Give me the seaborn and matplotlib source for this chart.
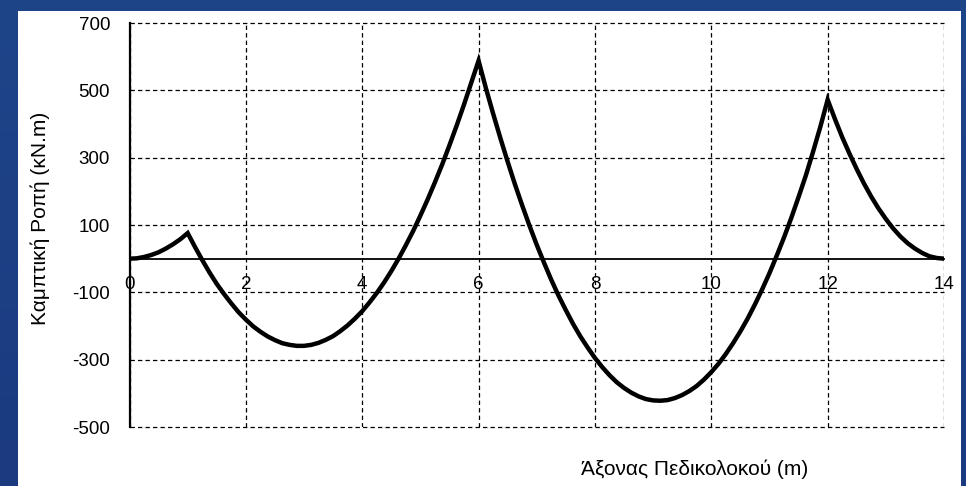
import numpy as np
import matplotlib
matplotlib.use("Agg")
import matplotlib.pyplot as plt
from matplotlib.patches import Rectangle
import pandas as pd
import seaborn as sns

# Bending moment along the beam axis (m, kN.m)
position_m = [
    0.0, 0.125, 0.25, 0.375, 0.5, 0.625, 0.75, 0.875, 1.0,
    1.125, 1.25, 1.375, 1.5, 1.625, 1.75, 1.875, 2.0,
    2.125, 2.25, 2.375, 2.5, 2.625, 2.75, 2.875, 3.0,
    3.125, 3.25, 3.375, 3.5, 3.625, 3.75, 3.875, 4.0,
    4.125, 4.25, 4.375, 4.5, 4.625, 4.75, 4.875, 5.0,
    5.125, 5.25, 5.375, 5.5, 5.625, 5.75, 5.875, 6.0,
    6.125, 6.25, 6.375, 6.5, 6.625, 6.75, 6.875, 7.0,
    7.125, 7.25, 7.375, 7.5, 7.625, 7.75, 7.875, 8.0,
    8.125, 8.25, 8.375, 8.5, 8.625, 8.75, 8.875, 9.0,
    9.125, 9.25, 9.375, 9.5, 9.625, 9.75, 9.875, 10.0,
    10.125, 10.25, 10.375, 10.5, 10.625, 10.75, 10.875, 11.0,
    11.125, 11.25, 11.375, 11.5, 11.625, 11.75, 11.875, 12.0,
    12.125, 12.25, 12.375, 12.5, 12.625, 12.75, 12.875, 13.0,
    13.125, 13.25, 13.375, 13.5, 13.625, 13.75, 13.875, 14.0,
]
moment_knm = [
    0, 1, 5, 11, 19, 30, 43, 58, 76,
    35, -4, -41, -75, -105, -133, -159, -181,
    -201, -217, -231, -242, -251, -256, -259, -259,
    -256, -250, -241, -230, -215, -198, -178, -156,
    -130, -102, -71, -37, 0, 40, 82, 128,
    176, 227, 280, 337, 396, 458, 523, 588,
    507, 431, 358, 288, 221, 158, 98, 41,
    -12, -63, -110, -153, -194, -231, -264, -295,
    -322, -346, -367, -384, -398, -409, -417, -421,
    -422, -420, -414, -405, -393, -378, -359, -337,
    -312, -283, -251, -216, -178, -136, -91, -43,
    9, 63, 121, 183, 247, 318, 392, 472,
    415, 361, 312, 266, 223, 184, 149, 118,
    90, 66, 46, 30, 17, 7, 2, 0,
]

x_ticks = [0, 2, 4, 6, 8, 10, 12, 14]
y_ticks = [-500, -300, -100, 100, 300, 500, 700]
x_label = "Άξονας Πεδικολοκού (m)"
y_label = "Καμπτική Ροπή (κΝ.m)"

df = pd.DataFrame({"x": position_m, "M": moment_knm})

sns.set_style("white")
plt.rcParams["font.family"] = ["Liberation Sans", "DejaVu Sans"]

W, H = 966, 486
fig = plt.figure(figsize=(W / 100, H / 100), dpi=100)

# blue slide background
bg = fig.add_axes([0, 0, 1, 1], zorder=-10)
grad = np.linspace(0, 1, 256).reshape(-1, 1)
bg.imshow(grad, aspect="auto", extent=[0, 1, 0, 1],
          cmap=matplotlib.colors.LinearSegmentedColormap.from_list(
              "slide", ["#1f4589", "#1b3a80"]))
bg.set_axis_off()

# white panel holding the chart
fig.patches.append(Rectangle((18 / W, 0), (961 - 18) / W, (H - 11) / H,
                             transform=fig.transFigure, facecolor="white",
                             edgecolor="none", zorder=-5))

left, right, top, bottom = 129.5, 944, 23, 427
ax = fig.add_axes([left / W, 1 - bottom / H, (right - left) / W, (bottom - top) / H])
ax.set_facecolor("none")

sns.lineplot(data=df, x="x", y="M", ax=ax, color="black", linewidth=3.2,
             sort=False, estimator=None, solid_joinstyle="miter", zorder=5)

ax.set_xlim(0, 14)
ax.set_ylim(-500, 700)
ax.set_xticks(x_ticks)
ax.set_yticks(y_ticks)
ax.set_xticklabels([str(v) for v in x_ticks])
ax.set_yticklabels([str(v) for v in y_ticks])

ax.grid(True, color="black", linewidth=0.9, linestyle=(0, (3.5, 2.5)))
ax.set_axisbelow(True)
# keep the grid lines on the plot border fully visible
for gl in ax.get_xgridlines() + ax.get_ygridlines():
    gl.set_clip_on(False)

for s in ["top", "right"]:
    ax.spines[s].set_visible(False)
ax.spines["left"].set_linewidth(1.6)
ax.spines["left"].set_color("black")
ax.spines["bottom"].set_position(("data", 0))
ax.spines["bottom"].set_linewidth(1.3)
ax.spines["bottom"].set_color("black")

ax.tick_params(axis="x", direction="inout", length=7, width=1.3, pad=9,
               labelsize=13.5, colors="black")
ax.tick_params(axis="y", direction="in", length=4, width=1.3, pad=14,
               labelsize=13.5, colors="black")

ax.set_xlabel("")
ax.set_ylabel("")
fig.text(695 / W, 1 - 469 / H, x_label, ha="center", va="center",
         fontsize=15, color="black")
fig.text(40 / W, 1 - 218 / H, y_label, ha="center", va="center",
         rotation=90, fontsize=15, color="black")

fig.savefig("out.png", dpi=100)
